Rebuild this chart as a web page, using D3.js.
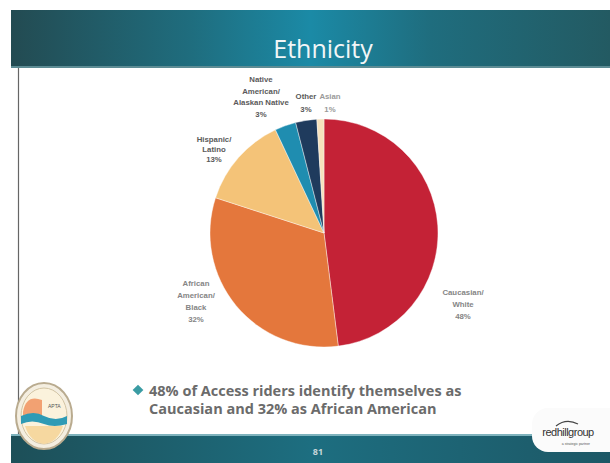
<!DOCTYPE html>
<html><head><meta charset="utf-8">
<script src="https://cdn.jsdelivr.net/npm/d3@7/dist/d3.min.js"></script>
<style>html,body{margin:0;padding:0;background:#fff;}svg{display:block;}</style>
</head><body>
<svg id="chart" width="610" height="463"></svg>
<script>
const title = "Ethnicity";
const categories = ["Caucasian/ White", "African American/ Black", "Hispanic/ Latino", "Native American/ Alaskan Native", "Other", "Asian"];
const values = [48, 32, 13, 3, 3, 1];
const colors = ["#c42236", "#e4773c", "#f4c378", "#1f8db0", "#1f3b5d", "#f6e2bd"];
const labelLines = [["Caucasian/", "White", "48%"], ["African", "American/", "Black", "32%"], ["Hispanic/", "Latino", "13%"], ["Native", "American/", "Alaskan Native", "3%"], ["Other", "3%"], ["Asian", "1%"]];
const labelPos = [[463, 295], [196, 286], [214, 142], [261, 82], [306, 99], [330, 99]];
const labelStep = [12, 12, 10, 11.5, 13, 13];
const bulletLines = ["48% of Access riders identify themselves as", "Caucasian and 32% as African American"];
const pageNumber = "81";

const svg = d3.select("#chart");
const defs = svg.append("defs");
const hg = defs.append("linearGradient").attr("id", "hg").attr("x1", "0").attr("x2", "1");
[["0", "#234b52"], ["0.3", "#1f6d7e"], ["0.5", "#1b8aa6"], ["0.7", "#1f6d7e"], ["1", "#235a62"]].forEach(s => hg.append("stop").attr("offset", s[0]).attr("stop-color", s[1]));
const fg = defs.append("linearGradient").attr("id", "fg").attr("x1", "0").attr("x2", "1");
[["0", "#1d4f58"], ["0.5", "#1d6e80"], ["1", "#1d5866"]].forEach(s => fg.append("stop").attr("offset", s[0]).attr("stop-color", s[1]));

// header
svg.append("rect").attr("x", 11).attr("y", 10).attr("width", 599).attr("height", 58).attr("fill", "url(#hg)");
svg.append("rect").attr("x", 11).attr("y", 66).attr("width", 599).attr("height", 2).attr("fill", "#5d8c94");
svg.append("text").attr("x", 323).attr("y", 58).attr("text-anchor", "middle")
  .attr("font-family", "Open Sans, sans-serif").attr("font-size", 25).attr("fill", "#f2f6f7").text(title);
// left vertical line
svg.append("line").attr("x1", 18.5).attr("x2", 18.5).attr("y1", 68).attr("y2", 440).attr("stroke", "#666").attr("stroke-width", 1.2);

// footer
svg.append("rect").attr("x", 11).attr("y", 436).attr("width", 599).attr("height", 27).attr("fill", "url(#fg)");
svg.append("rect").attr("x", 11).attr("y", 434).attr("width", 599).attr("height", 2).attr("fill", "#7fb3bd");
svg.append("text").attr("x", 318).attr("y", 455).attr("text-anchor", "middle")
  .attr("font-family", "Open Sans, sans-serif").attr("font-weight", "bold").attr("font-size", 9).attr("fill", "#c8d6da").text(pageNumber);

// right logo block
svg.append("rect").attr("x", 532).attr("y", 408).attr("width", 100).attr("height", 44).attr("rx", 16).attr("fill", "#fbfbfb");
svg.append("text").attr("x", 568).attr("y", 436).attr("text-anchor", "middle").attr("font-family", "Liberation Sans, sans-serif")
  .attr("font-size", 11).attr("fill", "#333").attr("letter-spacing", -0.5).text("redhillgroup");
svg.append("path").attr("d", "M556,426 Q566,418 578,424").attr("fill", "none").attr("stroke", "#444").attr("stroke-width", 1.2);
svg.append("text").attr("x", 590).attr("y", 445).attr("text-anchor", "end").attr("font-family", "Liberation Sans, sans-serif")
  .attr("font-size", 3.5).attr("fill", "#555").text("a strategic partner");

// left circular logo
const lg = svg.append("g").attr("transform", "translate(44,416)");
lg.append("ellipse").attr("rx", 28).attr("ry", 33).attr("fill", "#f4eee0").attr("stroke", "#b9ab8f").attr("stroke-width", 2);
lg.append("ellipse").attr("rx", 23).attr("ry", 28).attr("fill", "#fbf2dc").attr("stroke", "#d2c4a4").attr("stroke-width", 1);
lg.append("path").attr("d", "M-21,-4 Q-18,-22 -2,-16 L-2,0 L-21,0Z").attr("fill", "#f2a172");
lg.append("path").attr("d", "M-23,0 Q-10,-6 0,0 Q12,6 23,0 L23,8 Q10,12 0,8 Q-12,3 -23,8Z").attr("fill", "#2f9bb5");
lg.append("path").attr("d", "M-19,10 L19,10 Q14,26 0,28 Q-14,26 -19,10Z").attr("fill", "#f6d8a0");
lg.append("text").attr("x", 4).attr("y", -8).attr("font-size", 5).attr("font-family", "Liberation Sans, sans-serif").attr("fill", "#555").text("APTA");

// pie
const cx = 324, cy = 233, r = 114;
const pie = d3.pie().sort(null).value(d => d)(values);
const arc = d3.arc().innerRadius(0).outerRadius(r);
svg.append("g").attr("transform", `translate(${cx},${cy})`)
  .selectAll("path").data(pie).join("path")
  .attr("d", arc).attr("fill", (d, i) => colors[i]).attr("stroke", "#fff").attr("stroke-width", 0.4);

// labels
const lab = svg.append("g").attr("font-family", "Liberation Sans, Arial, sans-serif").attr("font-weight", "bold")
  .attr("font-size", 7.8).attr("fill", "#6a6a6a").attr("text-anchor", "middle");
labelLines.forEach((lines, i) => {
  const t = lab.append("text").attr("x", labelPos[i][0]).attr("y", labelPos[i][1]).attr("fill", i === 5 ? "#9a9a9a" : (i === 0 || i === 1 ? "#858585" : "#5a5a5a"));
  lines.forEach((ln, j) => t.append("tspan").attr("x", labelPos[i][0]).attr("y", labelPos[i][1] + j * labelStep[i]).text(ln));
});

// bullet
svg.append("rect").attr("x", -3.8).attr("y", -3.8).attr("width", 7.6).attr("height", 7.6)
  .attr("transform", "translate(138,390) rotate(45)").attr("fill", "#3a9ca3");
const bt = svg.append("text").attr("font-family", "Open Sans, sans-serif").attr("font-weight", "bold").attr("font-size", 14.5).attr("fill", "#6b6b6b");
bulletLines.forEach((ln, j) => bt.append("tspan").attr("x", 149).attr("y", 396 + j * 18).text(ln));
</script>
</body></html>
